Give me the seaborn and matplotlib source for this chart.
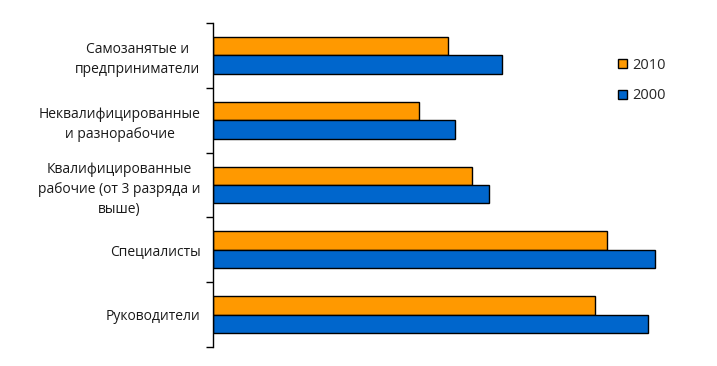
import matplotlib
matplotlib.use("Agg")
import matplotlib.pyplot as plt
import pandas as pd
import seaborn as sns
from matplotlib.patches import Patch

categories = [
    "Самозанятые и\nпредприниматели",
    "Неквалифицированные\nи разнорабочие",
    "Квалифицированные\nрабочие (от 3 разряда и\nвыше)",
    "Специалисты",
    "Руководители",
]
years = ["2010", "2000"]
values_2010 = [235, 206, 259, 394, 382]
values_2000 = [289, 242, 276, 442, 435]
colors = {"2010": "#FF9900", "2000": "#0066CC"}


def main() -> None:
    df = pd.DataFrame(
        {
            "category": categories * 2,
            "year": ["2010"] * len(categories) + ["2000"] * len(categories),
            "value": values_2010 + values_2000,
        }
    )

    sns.set_theme(style="white")
    plt.rcParams["font.family"] = ["Open Sans", "DejaVu Sans"]

    fig = plt.figure(figsize=(7.17, 3.66), dpi=100)
    ax = fig.add_axes([213 / 717, 19 / 366, 480 / 717, 324 / 366])
    sns.barplot(
        data=df, y="category", x="value", hue="year", hue_order=years,
        order=categories, palette=colors, orient="h", width=0.57, saturation=1,
        edgecolor="black", linewidth=1.0, ax=ax, legend=False,
    )
    ax.set_xlim(0, 480)
    ax.set_ylim(4.5, -0.5)
    ax.set_xlabel("")
    ax.set_ylabel("")
    ax.set_xticks([])
    for side in ["top", "right", "bottom"]:
        ax.spines[side].set_visible(False)
    ax.spines["left"].set_color("black")
    ax.spines["left"].set_linewidth(1.0)

    ax.set_yticks(range(len(categories)))
    ax.set_yticklabels(categories, fontsize=10, color="#1a1a1a")
    for lbl in ax.get_yticklabels():
        lbl.set_multialignment("center")
        lbl.set_linespacing(1.45)
    ax.tick_params(axis="y", which="major", length=0, pad=9)
    ax.set_yticks([i - 0.5 for i in range(len(categories) + 1)], minor=True)
    ax.tick_params(axis="y", which="minor", left=True, length=5, width=1.0, color="black")

    handles = [Patch(facecolor=colors[y], edgecolor="black", linewidth=1.0, label=y) for y in years]
    fig.legend(
        handles=handles, loc="upper left", bbox_to_anchor=(618 / 717, 1 - 58 / 366),
        frameon=False, fontsize=10.5, handlelength=0.6, handleheight=0.6,
        handletextpad=0.4, labelspacing=1.05, borderpad=0, borderaxespad=0,
    )

    fig.savefig("out.png", dpi=100)
    plt.close(fig)


if __name__ == "__main__":
    main()
